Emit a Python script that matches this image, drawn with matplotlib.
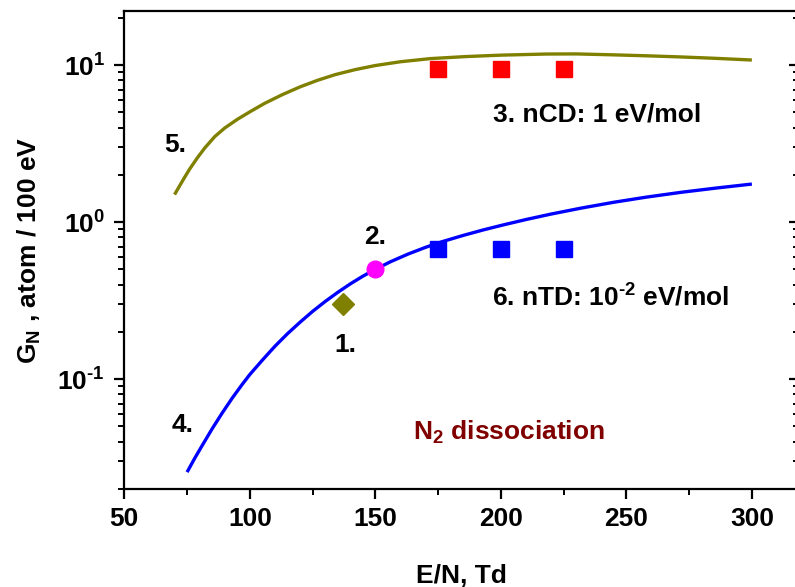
import math
import matplotlib
matplotlib.use("Agg")
import matplotlib.pyplot as plt
from matplotlib.ticker import FixedLocator, FuncFormatter, LogLocator, NullFormatter, MultipleLocator

plt.rcParams["font.family"] = ["Liberation Sans", "DejaVu Sans"]
plt.rcParams["font.weight"] = "bold"
plt.rcParams["mathtext.fontset"] = "custom"
plt.rcParams["mathtext.rm"] = "Liberation Sans:bold"
plt.rcParams["mathtext.bf"] = "Liberation Sans:bold"
plt.rcParams["mathtext.it"] = "Liberation Sans:bold"
plt.rcParams["mathtext.sf"] = "Liberation Sans:bold"

# Curve 5: G_N versus E/N (upper curve)
curve5_en = [70, 72, 74, 76, 79, 82, 86, 90, 95, 100, 106, 113, 120, 127, 134, 142, 150, 160, 172, 186,
             200, 218, 230, 245, 258, 271, 285, 300]
curve5_g = [1.50, 1.702, 1.930, 2.178, 2.559, 2.965, 3.508, 3.981, 4.519, 5.047, 5.728, 6.501, 7.278,
            8.017, 8.710, 9.376, 9.954, 10.52, 11.02, 11.35, 11.59, 11.78, 11.80, 11.64, 11.48, 11.30,
            11.07, 10.79]

# Curve 4: G_N versus E/N (lower curve)
curve4_en = [75, 78, 81, 85, 89, 93, 97, 100, 105, 110, 115, 120, 125, 130, 135, 140, 145, 150, 156, 163,
             170, 177, 185, 193, 201, 210, 220, 232, 245, 258, 272, 286, 300]
curve4_g = [0.0256, 0.0313, 0.0378, 0.0484, 0.0610, 0.0759, 0.0929, 0.1072, 0.1324, 0.1622, 0.195, 0.2307,
            0.2704, 0.3126, 0.3573, 0.4046, 0.4529, 0.501, 0.5598, 0.6266, 0.6918, 0.7551, 0.824, 0.8933,
            0.9616, 1.040, 1.127, 1.230, 1.340, 1.445, 1.552, 1.652, 1.750]

# Point 1 and point 2
p1_en, p1_g = [137], [0.3]
p2_en, p2_g = [150], [0.5]

# 3. nCD and 6. nTD
ncd_en = [175, 200, 225]
ncd_g = [9.5, 9.5, 9.5]
ntd_en = [175, 200, 225]
ntd_g = [0.68, 0.68, 0.68]

x_ticks = [50, 100, 150, 200, 250, 300]

fig = plt.figure(figsize=(7.95, 5.87), dpi=100)
ax = fig.add_axes([0.1564, 0.1670, 0.8487, 0.8135])

ax.plot(curve5_en, curve5_g, color="#808000", lw=2.4, solid_capstyle="butt", solid_joinstyle="round")
ax.plot(curve4_en, curve4_g, color="#0000ff", lw=2.4, solid_capstyle="butt", solid_joinstyle="round")
ax.plot(p1_en, p1_g, ls="none", marker="D", ms=11.5, color="#808000", mec="#808000")
ax.plot(p2_en, p2_g, ls="none", marker="o", ms=12, color="#ff00ff", mec="#ff00ff")
ax.plot(ncd_en, ncd_g, ls="none", marker="s", ms=11, color="#ff0000", mec="#ff0000")
ax.plot(ntd_en, ntd_g, ls="none", marker="s", ms=11, color="#0000ff", mec="#0000ff")

ax.set_yscale("log")
ax.set_xlim(50, 318.8)
ax.set_ylim(0.02, 22)

ax.xaxis.set_major_locator(FixedLocator(x_ticks))
ax.xaxis.set_minor_locator(MultipleLocator(25))
ax.yaxis.set_major_locator(LogLocator(base=10, numticks=10))
ax.yaxis.set_minor_locator(LogLocator(base=10, subs=range(2, 10), numticks=20))
ax.yaxis.set_minor_formatter(NullFormatter())
ax.yaxis.set_major_formatter(
    FuncFormatter(lambda v, p: r"$\mathrm{10^{%s}}$" % str(round(math.log10(v))).replace("-", "\u2010")))

for s in ax.spines.values():
    s.set_linewidth(1.6)

ax.tick_params(axis="both", which="major", direction="out", length=7, width=1.6,
               labelsize=19, top=False, right=False)
ax.tick_params(axis="both", which="minor", direction="out", length=4, width=1.4, top=False, right=False)
ax.tick_params(axis="x", which="major", pad=6)
ax.tick_params(axis="y", which="major", pad=7)

# mirrored inward ticks on the right
ax2 = ax.secondary_yaxis("right")
ax2.yaxis.set_major_locator(LogLocator(base=10, numticks=10))
ax2.yaxis.set_minor_locator(LogLocator(base=10, subs=range(2, 10), numticks=20))
ax2.tick_params(which="major", direction="in", length=7, width=1.6, labelright=False)
ax2.tick_params(which="minor", direction="in", length=4, width=1.4, labelright=False)
ax2.spines["right"].set_linewidth(1.6)

ax.set_xlabel("E/N, Td", fontsize=19, fontweight="bold", va="baseline")
ax.xaxis.set_label_coords(0.5, -0.197)
ax.set_ylabel(r"$\mathrm{G_N}$ , atom / 100 eV", fontsize=19, fontweight="bold", va="baseline")
ax.yaxis.set_label_coords(-0.1294, 0.5)

tkw = dict(fontsize=19, fontweight="bold", color="black")
ax.text(70.2, 2.79, "5.", ha="center", va="baseline", **tkw)
ax.text(73.2, 0.0459, "4.", ha="center", va="baseline", **tkw)
ax.text(137.9, 0.149, "1.", ha="center", va="baseline", **tkw)
ax.text(149.9, 0.728, "2.", ha="center", va="baseline", **tkw)
ax.text(196.7, 4.36, "3. nCD: 1 eV/mol", ha="left", va="baseline", **tkw)
ax.text(196.6, 0.293, "6. nTD: 10$^{\\mathrm{\u20102}}$ eV/mol", ha="left", va="baseline", **tkw)
ax.text(165.0, 0.0412, r"N$_{\mathrm{2}}$ dissociation", ha="left", va="baseline",
        fontsize=19, fontweight="bold", color="#800000")

fig.savefig("out.png", dpi=100)
